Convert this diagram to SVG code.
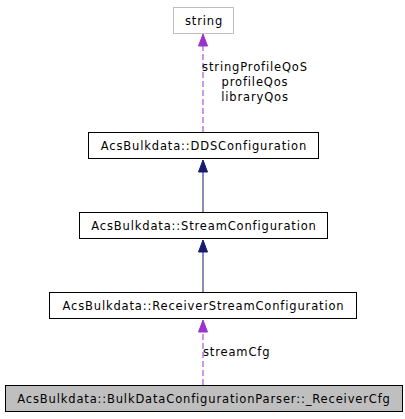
<svg xmlns="http://www.w3.org/2000/svg" width="405" height="419" viewBox="0 0 405 419">
<style>
text{font-family:"DejaVu Sans",sans-serif;font-size:11.5px;letter-spacing:0.85px;fill:#000}
.box{fill:#fff;stroke:#000;stroke-width:1}
.gray{fill:#bfbfbf;stroke:#000;stroke-width:1}
.ext{fill:#fff;stroke:#bfbfbf;stroke-width:1}
.inh{stroke:#191970;stroke-width:1;fill:none}
.use{stroke:#9a32cd;stroke-width:1;fill:none;stroke-dasharray:6,3}
.hi{fill:#191970;stroke:#191970}
.hp{fill:#9a32cd;stroke:#9a32cd}
</style>
<g id="connectors">
<path class="use" d="M203,132 L203,46"/>
<path class="hp" d="M203,34 L207.5,46 L198.5,46 Z"/>
<path class="inh" d="M203,212 L203,172"/>
<path class="hi" d="M203,160 L207.5,172 L198.5,172 Z"/>
<path class="inh" d="M203,292 L203,252"/>
<path class="hi" d="M203,240 L207.5,252 L198.5,252 Z"/>
<path class="use" d="M203,385 L203,332"/>
<path class="hp" d="M203,320 L207.5,332 L198.5,332 Z"/>
<text x="255" y="71" text-anchor="middle">stringProfileQoS</text>
<text x="255" y="86" text-anchor="middle">profileQos</text>
<text x="255" y="101" text-anchor="middle">libraryQos</text>
<text x="203" y="356">streamCfg</text>
</g>
<g id="string">
<rect class="ext" x="173.5" y="7.5" width="60" height="26"/>
<text x="204" y="25" text-anchor="middle">string</text>
</g>
<g id="DDSConfiguration">
<rect class="box" x="88.5" y="132.5" width="230" height="26"/>
<text x="204" y="150" text-anchor="middle">AcsBulkdata::DDSConfiguration</text>
</g>
<g id="StreamConfiguration">
<rect class="box" x="79.5" y="212.5" width="248" height="26"/>
<text x="204" y="230" text-anchor="middle">AcsBulkdata::StreamConfiguration</text>
</g>
<g id="ReceiverStreamConfiguration">
<rect class="box" x="49.5" y="292.5" width="307" height="26"/>
<text x="203.5" y="310" text-anchor="middle">AcsBulkdata::ReceiverStreamConfiguration</text>
</g>
<g id="ReceiverCfg">
<rect class="gray" x="5.5" y="385.5" width="397" height="26"/>
<text x="204" y="403" text-anchor="middle">AcsBulkdata::BulkDataConfigurationParser::_ReceiverCfg</text>
</g>
</svg>
